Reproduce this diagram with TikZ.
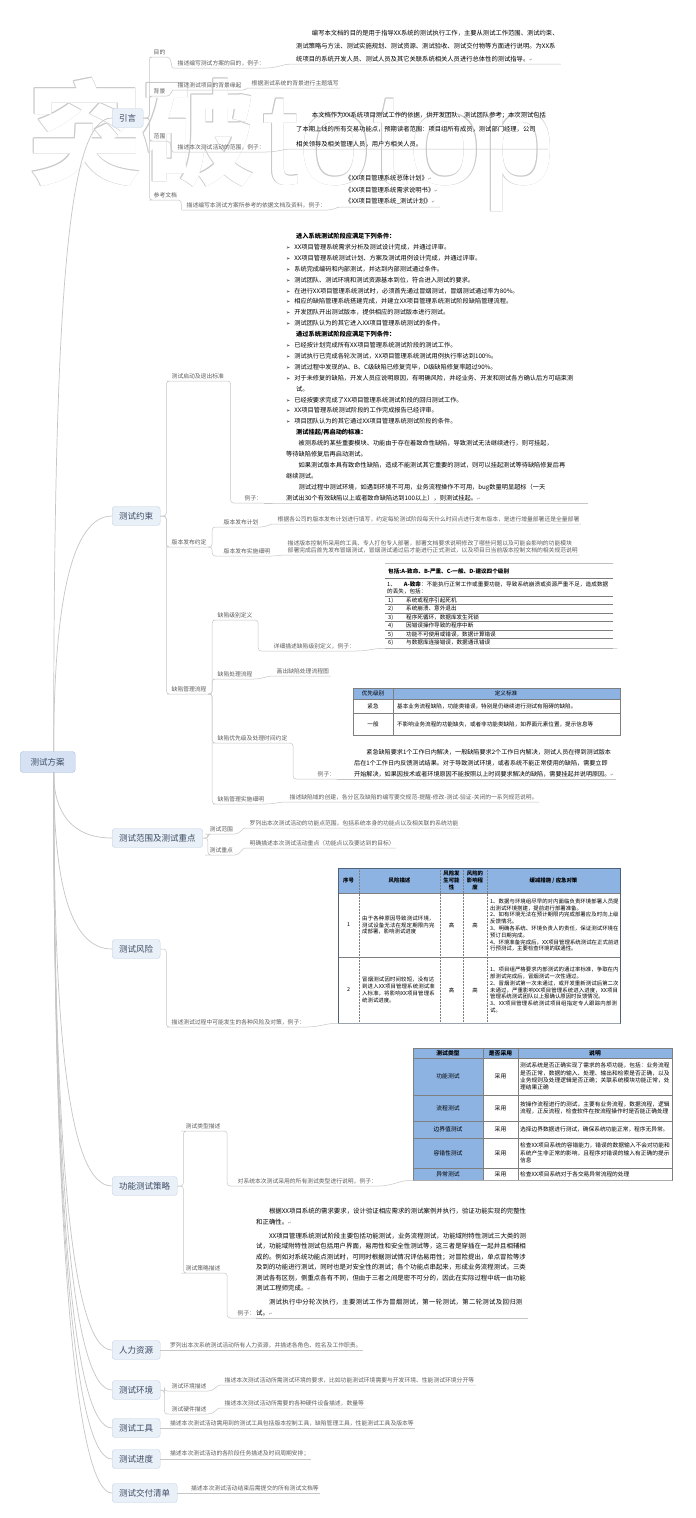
\documentclass[tikz,border=0pt]{standalone}
\usepackage{fontspec}
\usetikzlibrary{positioning,calc}
\newfontfamily\cjk{Noto Sans CJK SC}
\newfontfamily\symfont{DejaVu Sans}
\newfontfamily\markfont{Liberation Sans}
\XeTeXlinebreaklocale "zh"
\XeTeXlinebreakskip=0pt plus 1pt

\definecolor{rootfill}{HTML}{D6E2F3}
\definecolor{rootdraw}{HTML}{A9BEDD}
\definecolor{topicfill}{HTML}{EAF0F8}
\definecolor{topicdraw}{HTML}{C3D1E6}
\definecolor{topictext}{HTML}{3B4B63}
\definecolor{linegray}{HTML}{C6C6C6}
\definecolor{lbltext}{HTML}{5C5C5C}
\definecolor{hdrblue}{HTML}{8DB3E2}
\definecolor{tblline}{HTML}{7F7F7F}
\definecolor{markgray}{HTML}{C9C9C9}

\newcommand\bul{{\symfont\fontsize{5}{5}\selectfont ➢}\hspace{4pt}}
\newcommand\ret{{\symfont\fontsize{4}{4}\selectfont\color{gray}↵}}

\tikzset{
  rootnode/.style={draw=rootdraw,fill=rootfill,rounded corners=3pt,text=topictext,
    font=\cjk\fontsize{8.5}{9}\selectfont,minimum width=55pt,minimum height=21pt},
  topic/.style={draw=topicdraw,fill=topicfill,rounded corners=3pt,text=topictext,
    font=\cjk\fontsize{8.5}{9}\selectfont,minimum height=19pt,inner xsep=7pt,anchor=west},
  lbl/.style={anchor=south west,inner xsep=1.5pt,inner ysep=2pt,text=lbltext,
    font=\cjk\fontsize{5.8}{7}\selectfont},
  body/.style={anchor=south west,inner xsep=2pt,inner ysep=2pt,align=left,
    font=\cjk\fontsize{6.2}{10.9}\selectfont},
  conn/.style={draw=linegray,line width=.5pt,rounded corners=3pt},
  branch/.style={draw=linegray,line width=.7pt},
  cell/.style={inner sep=1pt,font=\cjk\fontsize{5.6}{7}\selectfont},
  grid/.style={draw=tblline,line width=.5pt},
  frame/.style={inner sep=0,anchor=north west},
  wmcn/.style={anchor=base west,inner sep=0,font=\cjk\bfseries\fontsize{114}{114}\selectfont},
  wmen/.style={anchor=base west,inner sep=0,font=\markfont\fontsize{132}{132}\selectfont},
}

\begin{document}
\begin{tikzpicture}[x=1pt,y=-1pt]
\useasboundingbox[fill=white] (0,0) rectangle (696,1518);

% watermark (outline made from shifted copies)
\foreach \dx/\dy [count=\i] in {.55/.55,-.55/.55,.55/-.55,-.55/-.55}{
  \node[wmcn,text=markgray] (markcn\i) at ($(28,176)+(\dx,\dy)$) {突破};
  \node[wmen,text=markgray] (marken\i) at ($(262,184)+(\dx,\dy)$) {totop};
}
\node[wmcn,text=white] (markcn) at (28,176) {突破};
\node[wmen,text=white] (marken) at (262,184) {totop};

% root and main topics
\node[rootnode,anchor=west] (root) at (20,762) {测试方案};
\node[topic] (yinyan) at (112,118) {引言};
\node[topic] (yueshu) at (112,516) {测试约束};
\node[topic] (fanwei) at (112,838) {测试范围及测试重点};
\node[topic] (fengxian) at (112,949) {测试风险};
\node[topic] (celue) at (112,1186) {功能测试策略};
\node[topic] (renli) at (112,1350) {人力资源};
\node[topic] (huanjing) at (112,1390) {测试环境};
\node[topic] (gongju) at (112,1428) {测试工具};
\node[topic] (jindu) at (112,1459) {测试进度};
\node[topic] (jiaofu) at (112,1493) {测试交付清单};

\draw[branch] ([xshift=6pt]root.north) .. controls +(0,-450) and +(-45,0) .. (yinyan.west);
\draw[branch] ([xshift=6pt]root.north) .. controls +(0,-150) and +(-40,0) .. (yueshu.west);
\foreach \t/\d/\c in {fanwei/40/40,fengxian/100/45,celue/250/45,renli/380/40,
  huanjing/420/38,gongju/460/36,jindu/490/34,jiaofu/520/32}
  \draw[branch] ([xshift=6pt]root.south) .. controls +(0,\d) and +(-\c,0) .. (\t.west);

% ---- 引言
\node[lbl] (mudi) at (152,57) {目的};
\node[lbl] (mudims) at (176,68) {描述编写测试方案的目的，例子：};
\node[body,font=\cjk\fontsize{6.3}{13}\selectfont] (mudiwen) at (294,64)
  {\hspace*{2.5em}编写本文档的目的是用于指导XX系统的测试执行工作，主要从测试工作范围、测试约束、\\
   测试策略与方法、测试实施规划、测试资源、测试验收、测试交付物等方面进行说明。为XX系\\
   统项目的系统开发人员、测试人员及其它关联系统相关人员进行总体性的测试指导。\ret};
\node[lbl] (beijing) at (152,96) {背景};
\node[lbl] (beijingms) at (176,90) {描述测试项目的背景缘起};
\node[lbl] (beijingwen) at (250,88) {根据测试系统的背景进行主题填写};
\node[lbl] (fw) at (152,141) {范围};
\node[lbl] (fwms) at (176,152) {描述本次测试活动的范围，例子：};
\node[body,font=\cjk\fontsize{6.3}{14.5}\selectfont] (fwwen) at (294,149)
  {\hspace*{2.5em}本文档作为XX系统项目测试工作的依据，供开发团队、测试团队参考；本次测试包括\\
   了本期上线的所有交易功能点，预期读者范围：项目组所有成员，测试部门经理，公司\\
   相关领导及相关管理人员，用户方相关人员。};
\node[lbl] (cankao) at (152,200) {参考文档};
\node[lbl] (cankaoms) at (185,210) {描述编写本测试方案所参考的依据文档及资料，例子：};
\node[body,font=\cjk\fontsize{6.3}{11.5}\selectfont] (cankaowen) at (343,207)
  {《XX项目管理系统总体计划》\ret\\《XX项目管理系统需求说明书》\ret\\《XX项目管理系统\_测试计划》\ret};

\foreach \c in {mudi,beijing,fw,cankao}
  \draw[conn] (yinyan.east) -- ++(6,0) |- (\c.south west) -- (\c.south east);
\foreach \a/\b in {mudi/mudims,beijing/beijingms,fw/fwms,cankao/cankaoms,
  mudims/mudiwen,beijingms/beijingwen,fwms/fwwen,cankaoms/cankaowen}
  \draw[conn] (\a.south east) to[out=0,in=180] (\b.south west) -- (\b.south east);

% ---- 测试约束
\node[lbl] (qidong) at (170,381) {测试启动及退出标准};
\node[lbl] (qidonglz) at (243,503) {例子：};
\node[body,text width=300pt] (qidongwen) at (284,503)
  {\hspace*{10pt}{\bfseries 进入系统测试阶段应满足下列条件：}\\
   \bul XX项目管理系统需求分析及测试设计完成，并通过评审。\\
   \bul XX项目管理系统测试计划、方案及测试用例设计完成，并通过评审。\\
   \bul 系统完成编码和内部测试，并达到内部测试通过条件。\\
   \bul 测试团队、测试环境和测试资源基本到位，符合进入测试的要求。\\
   \bul 在进行XX项目管理系统测试时，必须首先通过冒烟测试，冒烟测试通过率为80\%。\\
   \bul 相应的缺陷管理系统搭建完成，并建立XX项目管理系统测试阶段缺陷管理流程。\\
   \bul 开发团队开出测试版本，提供相应的测试版本进行测试。\\
   \bul 测试团队认为的其它进入XX项目管理系统测试的条件。\\
   \hspace*{10pt}{\bfseries 通过系统测试阶段应满足下列条件：}\\
   \bul 已经按计划完成所有XX项目管理系统测试阶段的测试工作。\\
   \bul 测试执行已完成各轮次测试，XX项目管理系统测试用例执行率达到100\%。\\
   \bul 测试过程中发现的A、B、C级缺陷已修复完毕，D级缺陷修复率超过90\%。\\
   \bul 对于未修复的缺陷，开发人员应说明原因，有明确风险，并经业务、开发和测试各方确认后方可结束测\\
   \hspace*{10pt}试。\\
   \bul 已经按要求完成了XX项目管理系统测试阶段的回归测试工作。\\
   \bul XX项目管理系统测试阶段的工作完成报告已经评审。\\
   \bul 项目团队认为的其它通过XX项目管理系统测试阶段的条件。\\
   \hspace*{10pt}{\bfseries 测试挂起/再启动的标准：}\\
   \hspace*{2em}被测系统的某些重要模块、功能由于存在着致命性缺陷，导致测试无法继续进行，则可挂起，\\
   等待缺陷修复后再启动测试。\\
   \hspace*{2em}如果测试版本具有致命性缺陷，造成不能测试其它重要的测试，则可以挂起测试等待缺陷修复后再\\
   继续测试。\\
   \hspace*{2em}测试过程中测试环境，如遇到环境不可用，业务流程操作不可用，bug数量明显超标（一天\\
   测试出30个有效缺陷以上或者致命缺陷达到100以上），则测试挂起。\ret};
\node[lbl] (fabu) at (170,547) {版本发布约定};
\node[lbl] (fabujh) at (222,527) {版本发布计划};
\node[lbl] (fabujhwen) at (276,524) {根据各公司的版本发布计划进行填写，约定每轮测试阶段每天什么时间点进行发布版本，是进行增量部署还是全量部署};
\node[lbl] (fabuss) at (222,556) {版本发布实施细明};
\node[lbl,align=left] (fabusswen) at (286,555)
  {描述版本控制所采用的工具、专人打包专人部署，部署文档要求说明修改了哪些问题以及可能会影响的功能模块\\
   部署完成后首先发布冒烟测试，冒烟测试通过后才能进行正式测试，以及项目日当前版本控制文档的相关规范说明};
\node[lbl] (quexian) at (170,694) {缺陷管理流程};
\node[lbl] (jibie) at (216,620) {缺陷级别定义};
\node[lbl] (jibiems) at (272,651) {详细描述缺陷级别定义，例子：};
\node[lbl] (chuli) at (216,679) {缺陷处理流程};
\node[lbl] (chuliwen) at (275,676) {画出缺陷处理流程图};
\node[lbl] (youxian) at (216,743) {缺陷优先级及处理时间约定};
\node[lbl] (youxianlz) at (316,779) {例子：};
\node[body,font=\cjk\fontsize{6.1}{10.9}\selectfont] (youxianwen) at (352,779)
  {\hspace*{2em}紧急缺陷要求1个工作日内解决，一般缺陷要求2个工作日内解决，测试人员在得到测试版本\\
   后在1个工作日内反馈测试结果。对于导致测试环境，或者系统不能正常使用的缺陷，需要立即\\
   开始解决，如果因技术或者环境原因不能按照以上时间要求解决的缺陷，需要挂起并说明原因。\ret};
\node[lbl] (guanli) at (216,804) {缺陷管理实施细明};
\node[lbl] (guanliwen) at (288,802) {描述缺陷域的创建，各分区及缺陷的编写要交规范-提醒-修改-测试-验证-关闭的一系列规范说明。};

% 缺陷级别表
\node[frame,minimum width=228pt,minimum height=85pt] (tabjibie) at (385,563) {};
\draw[draw=gray!50] (tabjibie.north west) -- (tabjibie.north east);
\node[cell,anchor=west,font=\cjk\bfseries\fontsize{5.6}{7}\selectfont] (t1h) at (387,571) {包括:A-致命、B-严重、C-一般、D-建议四个级别};
\draw[grid] (385,578) -- (613,578);
\node[cell,anchor=north west,text width=222pt,align=left] (t1a) at (386,580)
  {1、\hspace{8pt}{\bfseries A-致命}：不能执行正常工作或重要功能，导致系统崩溃或资源严重不足，造成数据的丢失，包括：};
\foreach \n/\t [count=\i] in {1)/系统或程序引起死机,2)/系统崩溃、意外退出,3)/程序死循环，数据库发生死锁,
  4)/因错误操作导致的程序中断,5)/功能不可使用或错误，数据计算错误,6)/与数据库连接错误，数据通讯错误}{
  \draw[grid,line width=.7pt] (385,{587.5+8.5*\i}) -- (613,{587.5+8.5*\i});
  \node[cell,anchor=west] (t1r\i) at (387,{591.75+8.5*\i}) {\makebox[18pt][l]{\n}\t};
}
\draw[grid,line width=.7pt] (tabjibie.south west) -- (tabjibie.south east);

% 优先级表
\node[frame,minimum width=267pt,minimum height=47pt] (tabyouxian) at (353,688) {};
\fill[hdrblue] (353,688) rectangle (620,699);
\draw[grid] (tabyouxian.north west) rectangle (tabyouxian.south east);
\draw[grid] (353,699) -- (620,699) (353,713) -- (620,713) (393,688) -- (393,735);
\node[cell] (t2h1) at (373,693.5) {优先级别};
\node[cell] (t2h2) at (506,693.5) {定义标准};
\node[cell] (t2a1) at (373,706) {紧急};
\node[cell,anchor=west] (t2b1) at (396,706) {基本业务流程缺陷，功能类错误，特别是仍继续进行测试有阻碍的缺陷。};
\node[cell] (t2a2) at (373,724) {一般};
\node[cell,anchor=west] (t2b2) at (396,724) {不影响业务流程的功能缺失，或者非功能类缺陷，如界面元素位置，提示信息等};

\foreach \c in {qidong,fabu,quexian}
  \draw[conn] (yueshu.east) -- ++(6,0) |- (\c.south west) -- (\c.south east);
\draw[conn] (qidong.south east) -- ++(5,0) |- (qidonglz.south west) -- (qidonglz.south east);
\draw[conn] (qidonglz.south east) -- (qidongwen.south west) -- (qidongwen.south east);
\foreach \c in {fabujh,fabuss}
  \draw[conn] (fabu.south east) -- ++(4,0) |- (\c.south west) -- (\c.south east);
\foreach \c in {jibie,chuli,youxian,guanli}
  \draw[conn] (quexian.south east) -- ++(4,0) |- (\c.south west) -- (\c.south east);
\draw[conn] (jibie.south east) -- ++(4,0) |- (jibiems.south west) -- (jibiems.south east);
\draw[conn] (youxian.south east) -- ++(4,0) |- (youxianlz.south west) -- (youxianlz.south east);
\draw[conn] (youxianlz.south east) -- (youxianwen.south west) -- (youxianwen.south east);
\draw[conn] (jibiems.south east) to[out=0,in=180] (tabjibie.south west) -- ([xshift=4pt]tabjibie.south east);
\foreach \a/\b in {fabujh/fabujhwen,fabuss/fabusswen,chuli/chuliwen,guanli/guanliwen}
  \draw[conn] (\a.south east) to[out=0,in=180] (\b.south west) -- (\b.south east);

% ---- 测试范围及测试重点
\node[lbl] (fwfw) at (208,834) {测试范围};
\node[lbl] (fwfwwen) at (248,828) {罗列出本次测试活动的功能点范围，包括系统本身的功能点以及相关联的系统功能};
\node[lbl] (zhongdian) at (208,855) {测试重点};
\node[lbl] (zhongdianwen) at (248,848) {明确描述本次测试活动重点（功能点以及要达到的目标）};
\foreach \c in {fwfw,zhongdian}
  \draw[conn] (fanwei.east) -- ++(5,0) |- (\c.south west) -- (\c.south east);
\foreach \a/\b in {fwfw/fwfwwen,zhongdian/zhongdianwen}
  \draw[conn] (\a.south east) to[out=0,in=180] (\b.south west) -- (\b.south east);

% ---- 测试风险
\node[lbl] (fengxianms) at (170,1027) {描述测试过程中可能发生的各种风险及对策，例子：};
\node[frame,minimum width=282pt,minimum height=155pt] (tabfengxian) at (338,868) {};
\fill[hdrblue] (338,868) rectangle (620,893);
\draw[grid] (338,893) -- (620,893) (338,957) -- (620,957);
\foreach \x in {359,440,463,487} \draw[grid,densely dotted] (\x,868) -- (\x,1023);
\draw[draw=hdrblue!55!black,line width=.8pt] (tabfengxian.north west) rectangle (tabfengxian.south east);
\begin{scope}[every node/.style={cell,align=center,font=\cjk\bfseries\fontsize{5.4}{6.8}\selectfont}]
\node (t3h1) at (348.5,880.5) {序号};
\node (t3h2) at (399.5,880.5) {风险描述};
\node (t3h3) at (451.5,880.5) {风险发\\生可能\\性};
\node (t3h4) at (475,880.5) {风险的\\影响程\\度};
\node (t3h5) at (553.5,880.5) {缓减措施 / 应急对策};
\end{scope}
\begin{scope}[every node/.style={cell,font=\cjk\fontsize{5.4}{6.8}\selectfont}]
\node (t3n1) at (348.5,925) {1};
\node[anchor=west,text width=74pt,align=left] (t3d1) at (361,925) {由于各种原因导致测试环境，测试设备无法在规定期限内完成部署，影响测试进度};
\node (t3p1) at (451.5,925) {高};
\node (t3i1) at (475,925) {高};
\node[anchor=west,text width=129pt,align=left] (t3m1) at (489,925)
  {1、数据与环境组尽早的对内面临负责环境部署人员提出测试环境搭建，提前进行部署准备。\\
   2、如有环境无法在预计期限内完成部署应及时向上级反馈情况。\\
   3、明确各系统、环境负责人的责任，保证测试环境在预订日期完成。\\
   4、环境准备完成后，XX项目管理系统测试在正式前进行预测试，主要检查环境的联通性。};
\node (t3n2) at (348.5,990) {2};
\node[anchor=west,text width=74pt,align=left] (t3d2) at (361,990) {冒烟测试因时间较短，没有达到进入XX项目管理系统测试准入标准，将影响XX项目管理系统测试进度。};
\node (t3p2) at (451.5,990) {高};
\node (t3i2) at (475,990) {高};
\node[anchor=west,text width=129pt,align=left] (t3m2) at (489,990)
  {1、项目组严格要求内部测试的通过率标准，争取在内部测试完成后，冒烟测试一次性通过。\\
   2、冒烟测试第一次未通过，或开发重新测试后第二次未通过，严重影响XX项目管理系统进入进度，XX项目管理系统测试团队以上报确认原因时反馈情况。\\
   3、XX项目管理系统测试项目组指定专人跟踪内部测试。};
\end{scope}
\draw[conn] (fengxian.east) -- ++(6,0) |- (fengxianms.south west) -- (fengxianms.south east);
\draw[conn] (fengxianms.south east) to[out=0,in=180] (tabfengxian.south west) -- (tabfengxian.south east);

% ---- 功能测试策略
\node[lbl] (leixing) at (184,1131) {测试类型描述};
\node[lbl] (leixingms) at (236,1186) {对系统本次测试采用的所有测试类型进行说明，例子：};
\node[frame,minimum width=259pt,minimum height=132pt] (tableixing) at (413,1048) {};
\fill[hdrblue] (413,1048) rectangle (672,1058);
\fill[hdrblue] (413,1058) rectangle (483,1180);
\draw[grid] (tableixing.north west) rectangle (tableixing.south east);
\draw[grid] (413,1058) -- (672,1058) (483,1048) -- (483,1180) (518,1048) -- (518,1180);
\begin{scope}[every node/.style={cell,font=\cjk\bfseries\fontsize{5.8}{7}\selectfont}]
\node (t4h1) at (448,1053) {测试类型};
\node (t4h2) at (500.5,1053) {是否采用};
\node (t4h3) at (595,1053) {说明};
\end{scope}
\foreach \nm/\ya/\yb/\txt [count=\i] in {
  功能测试/1058/1095/{测试系统是否正确实现了需求的各项功能，包括：业务流程是否正常，数据的输入、处理、输出和检索是否正确，以及业务规则及处理逻辑是否正确；关联系统模块功能正常，处理结果正确},
  流程测试/1095/1121/{按操作流程进行的测试，主要有业务流程，数据流程，逻辑流程，正反流程，检查软件在按流程操作时是否能正确处理},
  边界值测试/1121/1138/{选择边界数据进行测试，确保系统功能正常，程序无异常。},
  容错性测试/1138/1168/{检查XX项目系统的容错能力，错误的数据输入不会对功能和系统产生非正常的影响，且程序对错误的输入有正确的提示信息},
  异常测试/1168/1180/{检查XX项目系统对于各交易异常流程的处理}}{
  \node[cell,font=\cjk\fontsize{5.8}{7}\selectfont] (t4a\i) at (448,{(\ya+\yb)/2}) {\nm};
  \node[cell,font=\cjk\fontsize{5.8}{7}\selectfont] (t4b\i) at (500.5,{(\ya+\yb)/2}) {采用};
  \node[cell,anchor=west,text width=150pt,align=left,font=\cjk\fontsize{5.7}{7.2}\selectfont] (t4c\i) at (519,{(\ya+\yb)/2}) {\txt};
  \draw[grid] (413,\yb) -- (672,\yb);
}
\node[lbl] (celuems) at (184,1273) {测试策略描述};
\node[lbl] (celuelz) at (236,1318) {例子：};
\node[body,text width=270pt,font=\cjk\fontsize{6.4}{10.4}\selectfont] (celuewen) at (254,1318)
  {\hspace*{2em}根据XX项目系统的需求要求，设计验证相应需求的测试案例并执行，验证功能实现的完整性和正确性。\ret\par\vspace{4pt}
   \hspace*{2em}XX项目管理系统测试阶段主要包括功能测试，业务流程测试，功能域附特性测试三大类的测试，功能域附特性测试包括用户界面，易用性和安全性测试等，这三者是穿插在一起并且相辅相成的。例如对系统功能点测试时，可同时根据测试情况评估易用性；对冒险提出，单点冒险等涉及到的功能进行测试，同时也是对安全性的测试；各个功能点串起来，形成业务流程测试。三类测试各有区别，侧重点各有不同，但由于三者之间是密不可分的，因此在实际过程中统一由功能测试工程师完成。\ret\par\vspace{4pt}
   \hspace*{2em}测试执行中分轮次执行，主要测试工作为冒烟测试，第一轮测试，第二轮测试及回归测试。\ret};
\foreach \c in {leixing,celuems}
  \draw[conn] (celue.east) -- ++(6,0) |- (\c.south west) -- (\c.south east);
\draw[conn] (leixing.south east) -- ++(5,0) |- (leixingms.south west) -- (leixingms.south east);
\draw[conn] (leixingms.south east) to[out=0,in=180] (tableixing.south west) -- (tableixing.south east);
\draw[conn] (celuems.south east) -- ++(5,0) |- (celuelz.south west) -- (celuelz.south east);
\draw[conn] (celuelz.south east) -- (celuewen.south west) -- (celuewen.south east);

% ---- 人力资源 / 环境 / 工具 / 进度 / 交付
\node[lbl] (renliwen) at ([xshift=8pt]renli.east) {罗列出本次系统测试活动所有人力资源，并描述各角色、姓名及工作职责。};
\node[lbl] (hjms) at (170,1391) {测试环境描述};
\node[lbl] (hjmswen) at (223,1385) {描述本次测试活动所需测试环境的要求，比如功能测试环境需要与开发环境、性能测试环境分开等};
\node[lbl] (yjms) at (170,1414) {测试硬件描述};
\node[lbl] (yjmswen) at (223,1408) {描述本次测试活动所需要的各种硬件设备描述，数量等};
\node[lbl] (gongjuwen) at ([xshift=8pt]gongju.east) {描述本次测试活动需用到的测试工具包括版本控制工具，缺陷管理工具，性能测试工具及版本等};
\node[lbl] (jinduwen) at ([xshift=8pt]jindu.east) {描述本次测试活动的各阶段任务描述及时间周期安排；};
\node[lbl] (jiaofuwen) at ([xshift=12pt]jiaofu.east) {描述本次测试活动结束后需提交的所有测试文档等};
\foreach \a/\b in {renli/renliwen,gongju/gongjuwen,jindu/jinduwen,jiaofu/jiaofuwen}
  \draw[conn] (\a.east) -- (\b.south west) -- (\b.south east);
\foreach \c in {hjms,yjms}
  \draw[conn] (huanjing.east) -- ++(4,0) |- (\c.south west) -- (\c.south east);
\foreach \a/\b in {hjms/hjmswen,yjms/yjmswen}
  \draw[conn] (\a.south east) to[out=0,in=180] (\b.south west) -- (\b.south east);
\end{tikzpicture}
\end{document}
